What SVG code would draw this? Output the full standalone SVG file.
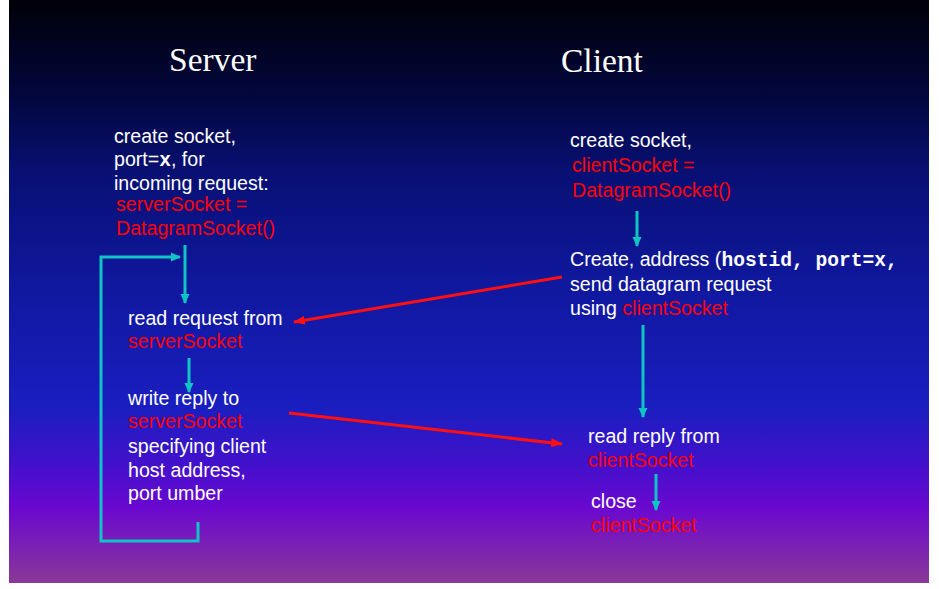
<svg xmlns="http://www.w3.org/2000/svg" width="939" height="589" viewBox="0 0 939 589">
<defs>
<linearGradient id="bg" x1="0" y1="0" x2="0" y2="1">
<stop offset="0" stop-color="#000008"/>
<stop offset="0.15" stop-color="#020638"/>
<stop offset="0.3" stop-color="#081075"/>
<stop offset="0.5" stop-color="#1018a0"/>
<stop offset="0.7" stop-color="#1a1ec0"/>
<stop offset="0.8" stop-color="#4410cc"/>
<stop offset="0.87" stop-color="#6a08d0"/>
<stop offset="1" stop-color="#8a3898"/>
</linearGradient>
<marker id="cy" markerWidth="10" markerHeight="10" refX="9" refY="5" orient="auto" markerUnits="userSpaceOnUse">
<path d="M0,0.5 L10,5 L0,9.5 Z" fill="#10c4c4"/>
</marker>
<marker id="rd" markerWidth="12" markerHeight="10" refX="11" refY="5" orient="auto" markerUnits="userSpaceOnUse">
<path d="M0,0.5 L12,5 L0,9.5 Z" fill="#ff1010"/>
</marker>
<style>
.t{font-family:"Liberation Sans",Arial,sans-serif;font-size:19.6px;fill:#ffffff}
.r{fill:#ff0000}
.h{font-family:"Liberation Serif","Times New Roman",serif;font-size:33.5px;fill:#ffffff}
.m{font-family:"Liberation Mono","Courier New",monospace;font-weight:bold}
.c{stroke:#10c4c4;stroke-width:3;fill:none}
.re{stroke:#ff1010;stroke-width:3;fill:none}
</style>
</defs>
<rect x="0" y="0" width="939" height="589" fill="#ffffff"/>
<rect x="9" y="0" width="920" height="583" fill="url(#bg)"/>
<text class="h" x="169" y="71">Server</text>
<text class="h" x="561" y="72">Client</text>
<g id="server-create">
<text class="t" x="114" y="143">create socket,</text>
<text class="t" x="114" y="166">port=<tspan class="m">x</tspan>, for</text>
<text class="t" x="114" y="190">incoming request:</text>
<text class="t r" x="116" y="211">serverSocket =</text>
<text class="t r" x="116" y="235">DatagramSocket()</text>
</g>
<g id="server-read">
<text class="t" x="128" y="325">read request from</text>
<text class="t r" x="128" y="348">serverSocket</text>
</g>
<g id="server-write">
<text class="t" x="128" y="405">write reply to</text>
<text class="t r" x="128" y="428">serverSocket</text>
<text class="t" x="128" y="453">specifying client</text>
<text class="t" x="128" y="477">host address,</text>
<text class="t" x="128" y="500">port umber</text>
</g>
<g id="client-create">
<text class="t" x="570" y="147">create socket,</text>
<text class="t r" x="572" y="172">clientSocket =</text>
<text class="t r" x="572" y="197">DatagramSocket()</text>
</g>
<g id="client-send">
<text class="t" x="570" y="266">Create, address (<tspan class="m">hostid, port=x,</tspan></text>
<text class="t" x="570" y="291">send datagram request</text>
<text class="t" x="570" y="315">using <tspan class="r">clientSocket</tspan></text>
</g>
<g id="client-read">
<text class="t" x="588" y="443">read reply from</text>
<text class="t r" x="588" y="467">clientSocket</text>
</g>
<g id="client-close">
<text class="t" x="591" y="508">close</text>
<text class="t r" x="591" y="532">clientSocket</text>
</g>
<g id="connectors">
<line class="c" x1="185" y1="245" x2="185" y2="303" marker-end="url(#cy)"/>
<polyline class="c" points="198,522 198,541 101,541 101,257 180,257" marker-end="url(#cy)"/>
<line class="c" x1="189" y1="358" x2="189" y2="392" marker-end="url(#cy)"/>
<line class="c" x1="637" y1="211" x2="637" y2="246" marker-end="url(#cy)"/>
<line class="c" x1="643" y1="325" x2="643" y2="417" marker-end="url(#cy)"/>
<line class="c" x1="656" y1="474" x2="656" y2="510" marker-end="url(#cy)"/>
<line class="re" x1="562" y1="277" x2="294" y2="322" marker-end="url(#rd)"/>
<line class="re" x1="289" y1="413" x2="562" y2="444" marker-end="url(#rd)"/>
</g>
</svg>
